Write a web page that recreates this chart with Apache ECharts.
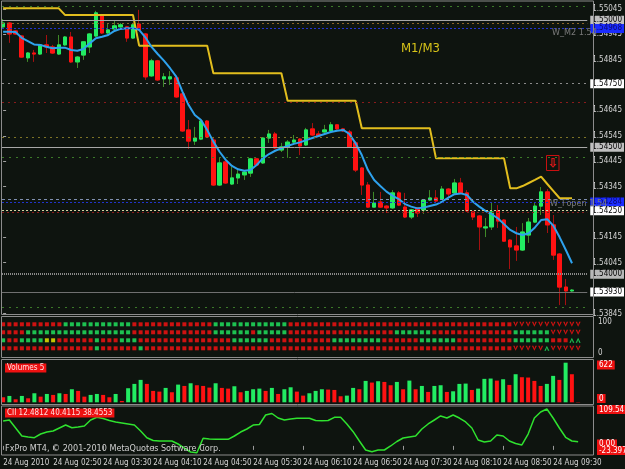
<!DOCTYPE html>
<html>
<head>
<meta charset="utf-8">
<script src="https://cdn.jsdelivr.net/npm/echarts@6/dist/echarts.min.js"></script>
<style>
  html, body { margin: 0; padding: 0; background: #0e140f; }
  #chart { width: 625px; height: 469px; }
</style>
</head>
<body>
<div id="chart"></div>
<script>
// GBPUSD-like M5 chart, 24 Aug 2010 (MT4 screenshot)
const NARROW = "'Liberation Sans Narrow','DejaVu Sans Condensed','Liberation Sans',sans-serif"
const BG = '#0e140f'

// [open, close, low, high] per bar
const candles = [
  [1.54974, 1.54989, 1.54970, 1.55005], [1.54989, 1.54946, 1.54911, 1.54993], [1.54958, 1.54946, 1.54942, 1.54962],
  [1.54938, 1.54855, 1.54852, 1.54942], [1.54852, 1.54871, 1.54836, 1.54875], [1.54871, 1.54867, 1.54836, 1.54883],
  [1.54867, 1.54903, 1.54863, 1.54907], [1.54903, 1.54895, 1.54871, 1.54942], [1.54895, 1.54871, 1.54867, 1.54903],
  [1.54867, 1.54903, 1.54863, 1.54942], [1.54903, 1.54934, 1.54899, 1.54938], [1.54934, 1.54836, 1.54832, 1.54954],
  [1.54836, 1.54855, 1.54812, 1.54859], [1.54863, 1.54915, 1.54844, 1.54918], [1.54895, 1.54946, 1.54871, 1.54950],
  [1.54938, 1.55029, 1.54934, 1.55037], [1.55021, 1.54950, 1.54946, 1.55025], [1.54950, 1.54962, 1.54946, 1.54985],
  [1.54966, 1.54978, 1.54958, 1.54997], [1.54974, 1.54982, 1.54970, 1.54989], [1.54974, 1.54930, 1.54915, 1.54978],
  [1.54930, 1.54982, 1.54926, 1.54985], [1.54985, 1.54962, 1.54958, 1.55041], [1.54946, 1.54777, 1.54765, 1.54950],
  [1.54781, 1.54840, 1.54777, 1.54848], [1.54840, 1.54765, 1.54761, 1.54844], [1.54769, 1.54777, 1.54737, 1.54792],
  [1.54769, 1.54777, 1.54745, 1.54800], [1.54773, 1.54698, 1.54694, 1.54777], [1.54710, 1.54564, 1.54560, 1.54714],
  [1.54568, 1.54524, 1.54493, 1.54607], [1.54524, 1.54536, 1.54509, 1.54580], [1.54532, 1.54603, 1.54528, 1.54607],
  [1.54603, 1.54540, 1.54536, 1.54607], [1.54528, 1.54351, 1.54347, 1.54536], [1.54351, 1.54438, 1.54347, 1.54458],
  [1.54442, 1.54359, 1.54355, 1.54450], [1.54355, 1.54379, 1.54351, 1.54422], [1.54379, 1.54394, 1.54355, 1.54410],
  [1.54391, 1.54402, 1.54371, 1.54410], [1.54398, 1.54454, 1.54383, 1.54458], [1.54454, 1.54430, 1.54426, 1.54458],
  [1.54438, 1.54536, 1.54434, 1.54540], [1.54536, 1.54552, 1.54517, 1.54568], [1.54552, 1.54497, 1.54493, 1.54560],
  [1.54489, 1.54501, 1.54481, 1.54517], [1.54501, 1.54520, 1.54458, 1.54528], [1.54520, 1.54528, 1.54509, 1.54548],
  [1.54532, 1.54505, 1.54469, 1.54536], [1.54509, 1.54568, 1.54505, 1.54576], [1.54572, 1.54548, 1.54544, 1.54595],
  [1.54552, 1.54544, 1.54540, 1.54564], [1.54560, 1.54568, 1.54556, 1.54588], [1.54564, 1.54588, 1.54560, 1.54599],
  [1.54588, 1.54572, 1.54568, 1.54591], [1.54572, 1.54564, 1.54560, 1.54576], [1.54560, 1.54501, 1.54497, 1.54568],
  [1.54517, 1.54410, 1.54402, 1.54524], [1.54418, 1.54351, 1.54312, 1.54422], [1.54351, 1.54264, 1.54261, 1.54363],
  [1.54264, 1.54280, 1.54264, 1.54324], [1.54284, 1.54264, 1.54261, 1.54324], [1.54268, 1.54261, 1.54241, 1.54272],
  [1.54261, 1.54320, 1.54257, 1.54331], [1.54320, 1.54272, 1.54268, 1.54327], [1.54264, 1.54225, 1.54221, 1.54320],
  [1.54225, 1.54253, 1.54217, 1.54257], [1.54261, 1.54241, 1.54225, 1.54264], [1.54253, 1.54292, 1.54237, 1.54296],
  [1.54292, 1.54300, 1.54288, 1.54331], [1.54300, 1.54288, 1.54284, 1.54331], [1.54296, 1.54335, 1.54292, 1.54347],
  [1.54335, 1.54316, 1.54300, 1.54339], [1.54320, 1.54359, 1.54316, 1.54375], [1.54359, 1.54320, 1.54316, 1.54379],
  [1.54320, 1.54249, 1.54245, 1.54331], [1.54245, 1.54225, 1.54213, 1.54249], [1.54229, 1.54186, 1.54095, 1.54233],
  [1.54182, 1.54186, 1.54146, 1.54221], [1.54186, 1.54245, 1.54174, 1.54284], [1.54249, 1.54209, 1.54182, 1.54272],
  [1.54213, 1.54130, 1.54127, 1.54217], [1.54134, 1.54107, 1.54020, 1.54138], [1.54111, 1.54095, 1.54052, 1.54186],
  [1.54095, 1.54166, 1.54091, 1.54201], [1.54154, 1.54205, 1.54123, 1.54221], [1.54205, 1.54268, 1.54201, 1.54280],
  [1.54268, 1.54324, 1.54233, 1.54343], [1.54324, 1.54194, 1.54162, 1.54335], [1.54194, 1.54075, 1.54056, 1.54233],
  [1.54079, 1.53949, 1.53878, 1.54083], [1.53949, 1.53934, 1.53878, 1.53981], [1.53934, 1.53937, 1.53930, 1.53941],
]

// blue moving average
const emaLine = [
  1.54955, 1.54955, 1.54954, 1.54931, 1.54918, 1.54905, 1.54903, 1.54896, 1.54890, 1.54892,
  1.54892, 1.54883, 1.54880, 1.54887, 1.54909, 1.54929, 1.54935, 1.54942, 1.54958, 1.54966,
  1.54969, 1.54969, 1.54962, 1.54933, 1.54895, 1.54867, 1.54841, 1.54811, 1.54778, 1.54719,
  1.54666, 1.54627, 1.54607, 1.54568, 1.54522, 1.54482, 1.54450, 1.54426, 1.54413, 1.54407,
  1.54410, 1.54430, 1.54456, 1.54473, 1.54486, 1.54496, 1.54505, 1.54513, 1.54519, 1.54528,
  1.54536, 1.54544, 1.54552, 1.54560, 1.54565, 1.54568, 1.54552, 1.54515, 1.54469, 1.54410,
  1.54371, 1.54347, 1.54325, 1.54308, 1.54295, 1.54276, 1.54266, 1.54259, 1.54262, 1.54268,
  1.54274, 1.54286, 1.54301, 1.54315, 1.54318, 1.54312, 1.54285, 1.54266, 1.54249, 1.54236,
  1.54220, 1.54197, 1.54174, 1.54161, 1.54154, 1.54161, 1.54184, 1.54213, 1.54216, 1.54190,
  1.54145, 1.54095, 1.54043,
]

// yellow higher-timeframe step line
const stepLine = [
  1.55047, 1.55047, 1.55047, 1.55047, 1.55047, 1.55047, 1.55047, 1.55047, 1.55047, 1.55047,
  1.55021, 1.55021, 1.55021, 1.55021, 1.55021, 1.55021, 1.55021, 1.55021, 1.55021, 1.55021,
  1.55021, 1.55021, 1.54900, 1.54900, 1.54900, 1.54900, 1.54900, 1.54900, 1.54900, 1.54900,
  1.54900, 1.54900, 1.54900, 1.54900, 1.54791, 1.54791, 1.54791, 1.54791, 1.54791, 1.54791,
  1.54791, 1.54791, 1.54791, 1.54791, 1.54791, 1.54791, 1.54683, 1.54683, 1.54683, 1.54683,
  1.54683, 1.54683, 1.54683, 1.54683, 1.54683, 1.54683, 1.54683, 1.54683, 1.54575, 1.54575,
  1.54575, 1.54575, 1.54575, 1.54575, 1.54575, 1.54575, 1.54575, 1.54575, 1.54575, 1.54575,
  1.54456, 1.54456, 1.54456, 1.54456, 1.54456, 1.54456, 1.54456, 1.54456, 1.54456, 1.54456,
  1.54456, 1.54456, 1.54338, 1.54338, 1.54347, 1.54359, 1.54371, 1.54384, 1.54355, 1.54327,
  1.54299, 1.54299, 1.54299,
]

const volumes = [
  79, 100, 47, 100, 63, 142, 89, 131, 116, 142,
  131, 205, 179, 89, 116, 131, 116, 79, 131, 21,
  221, 289, 352, 289, 179, 168, 226, 158, 278, 257,
  299, 268, 257, 231, 299, 226, 215, 252, 158, 179,
  205, 215, 179, 226, 131, 205, 236, 168, 105, 142,
  179, 205, 200, 194, 95, 105, 226, 205, 336, 310,
  331, 320, 268, 320, 205, 341, 205, 257, 163, 257,
  268, 163, 173, 289, 294, 194, 215, 368, 373, 341,
  362, 273, 441, 394, 389, 336, 257, 289, 415, 352,
  622, 441, 5,
]

const ciiLine = [
  67.5, 70.2, 48.5, 26.8, 24.1, 22.2, 32.2, 37.6, 40.4, 48.5,
  56.6, 49.3, 51.2, 53.9, 70.2, 77.5, 74.3, 68.8, 64.8, 62.1,
  59.4, 56.6, 40.4, 22.2, 14.6, 13.2, 13.2, 13.2, 5.1, -5.8,
  -16.6, -18.5, 20.6, 18.7, 17.8, 17.8, 17.8, 26.8, 37.6, 45.8,
  56.6, 58.0, 83.8, 87.8, 75.6, 70.2, 72.9, 74.8, 74.8, 74.8,
  68.8, 68.3, 68.8, 77.5, 77.5, 59.4, 38.5, 13.2, -11.2, -15.8,
  -11.2, -11.2, -0.3, 11.9, 21.4, 24.1, 26.8, 45.8, 59.4, 70.2,
  81.1, 75.6, 83.8, 75.6, 64.8, 48.5, 15.9, 10.5, 13.2, 29.5,
  26.8, 13.2, 6.4, 2.4, 32.2, 75.6, 91.9, 100.0, 75.6, 48.5,
  23.3, 13.2, 11.3,
]

// signal grid, run-length per row: r red, g green, y yellow, v red down arrow, a green up arrow
const signalRuns = [
  [['r', 10], ['g', 11], ['r', 13], ['g', 12], ['r', 36], ['v', 11]],
  [['r', 4], ['g', 17], ['r', 13], ['g', 6], ['r', 1], ['g', 5], ['r', 17], ['g', 6], ['r', 13], ['g', 6], ['v', 5]],
  [['g', 1], ['r', 2], ['g', 4], ['y', 2], ['r', 6], ['g', 1], ['r', 3], ['g', 3], ['r', 15], ['g', 6], ['r', 10],
   ['g', 8], ['r', 6], ['g', 6], ['r', 9], ['g', 6], ['r', 3], ['a', 2]],
  [['r', 15], ['g', 1], ['r', 6], ['g', 1], ['r', 59], ['v', 5], ['a', 1], ['v', 5]],
]

const timeTicks = [0, 8, 16, 24, 32, 40, 48, 56, 64, 72, 80, 88]
const timeLabels = ['24 Aug 2010', '24 Aug 02:50', '24 Aug 03:30', '24 Aug 04:10', '24 Aug 04:50', '24 Aug 05:30',
  '24 Aug 06:10', '24 Aug 06:50', '24 Aug 07:30', '24 Aug 08:10', '24 Aug 08:50', '24 Aug 09:30']
const priceTicks = [1.55045, 1.54945, 1.54845, 1.54645, 1.54545, 1.54445, 1.54345, 1.54145, 1.54045, 1.53845]

// horizontal objects on the price chart
const levelPrices = [1.55056, 1.55000, 1.54990, 1.54968, 1.54750, 1.54678, 1.54540, 1.54500,
  1.54461, 1.54296, 1.54284, 1.54250, 1.54243, 1.54000, 1.53930, 1.53870]

// ---- styling ----
const levelStyles = [
  {color: '#3b7a28', type: [2, 5]},
  {color: '#a8a8a8', type: 'solid', tag: ['#c0c0c0', '#000']},
  {color: '#8c6428', type: [2, 3]},
  {color: '#2233cc', type: [2, 2], tag: ['#1a2cff', '#0a0a70']},
  {color: '#8a8a8a', type: [2, 4], tag: ['#ffffff', '#000']},
  {color: '#8a1b1b', type: [2, 4]},
  {color: '#7e7426', type: [2, 4]},
  {color: '#a8a8a8', type: 'solid', tag: ['#c0c0c0', '#000']},
  {color: '#3b7a28', type: [2, 5]},
  {color: '#8090b0', type: [3, 3]},
  {color: '#2233cc', type: [2, 2], tag: ['#1a2cff', '#0a0a70']},
  {color: '#d0d0a0', type: [2, 2], tag: ['#ffffff', '#000']},
  {color: '#8a1b1b', type: [2, 3]},
  {color: '#8a8a8a', type: [1, 1], width: 2, tag: ['#b8b8b8', '#000']},
  {color: '#707070', type: 'solid', tag: ['#ffffff', '#000']},
  {color: '#3b7a28', type: [2, 5]},
]

const GREEN = '#22ec62'
const RED = '#ff1212'
const AXIS_TXT = '#d4d4d4'
const X_MIN = -0.18
const X_MAX = 94.46
const RIGHT = 31.5

const markData = levelPrices.map((p, i) => {
  const s = levelStyles[i]
  return {
    yAxis: p,
    lineStyle: {color: s.color, type: s.type, width: s.width || 1},
    label: s.tag ? {
      show: true, position: 'end', distance: 3, formatter: p.toFixed(5),
      backgroundColor: s.tag[0], color: s.tag[1], padding: [1, 2, 0, 2],
      fontSize: 8, fontFamily: NARROW,
    } : {show: false},
  }
})

const cellKinds = {
  r: {symbol: 'rect', color: RED, size: [4, 4]},
  g: {symbol: 'rect', color: GREEN, size: [4, 4]},
  y: {symbol: 'rect', color: '#f2f000', size: [4, 4]},
  v: {symbol: 'path://M0,0L3,0L5,6L7,0L10,0L5,10Z', color: RED, size: [5, 5]},
  a: {symbol: 'path://M0,10L3,10L5,4L7,10L10,10L5,0Z', color: GREEN, size: [5, 5]},
}
const cellData = {r: [], g: [], y: [], v: [], a: []}
signalRuns.forEach((runs, row) => {
  let i = 0
  runs.forEach(([k, n]) => {
    for (let j = 0; j < n; j++) { cellData[k].push([i, 4 - row]); i++ }
  })
})

const hiddenX = gi => ({type: 'value', gridIndex: gi, min: X_MIN, max: X_MAX, show: false})
const hiddenY = (gi, min, max) => ({type: 'value', gridIndex: gi, min, max, show: false})

const txt = (x, y, text, fill, size, extra) => ({
  type: 'text', x, y, silent: true, z: 100,
  style: Object.assign({text, fill, font: `${size}px ${NARROW}`, verticalAlign: 'middle', align: 'left'}, extra || {}),
})
const tag = (x, y, text, bg, fill) => txt(x, y, text, fill || '#ffffff', 8, {backgroundColor: bg, padding: [1, 2, 0, 2]})

const frames = [[1, 314.5], [316.5, 357.5], [359.5, 404.5], [406, 455]]

const myChart = echarts.init(document.getElementById('chart'), null, {renderer: 'canvas'})
myChart.setOption({
  backgroundColor: BG,
  animation: false,
  grid: [
    {left: 2, right: RIGHT, top: 3, height: 312},
    {left: 2, right: RIGHT, top: 318, height: 39},
    {left: 2, right: RIGHT, top: 362.7, height: 39.6},
    {left: 2, right: RIGHT, top: 405.5, height: 49},
  ],
  xAxis: [
    hiddenX(0), hiddenX(1), hiddenX(2),
    {
      type: 'value', gridIndex: 3, min: X_MIN, max: X_MAX,
      axisLine: {show: false}, splitLine: {show: false},
      axisTick: {show: true, customValues: timeTicks, length: 4, lineStyle: {color: '#9a9a9a'}},
      axisLabel: {
        customValues: timeTicks, formatter: v => timeLabels[timeTicks.indexOf(Math.round(v))] || '',
        showMinLabel: true, showMaxLabel: true, hideOverlap: false,
        align: 'left', color: AXIS_TXT, fontSize: 8, fontFamily: NARROW, margin: 4,
      },
    },
  ],
  yAxis: [
    {
      type: 'value', gridIndex: 0, min: 1.53839, max: 1.55068, position: 'right',
      splitLine: {show: false}, axisLine: {show: false},
      axisTick: {show: true, customValues: priceTicks, length: 3, lineStyle: {color: '#a0a0a0'}},
      axisLabel: {
        customValues: priceTicks, formatter: v => v.toFixed(5), showMinLabel: true, showMaxLabel: true,
        color: AXIS_TXT, fontSize: 8, fontFamily: NARROW, margin: 5,
      },
    },
    hiddenY(1, -0.0875, 4.7875),
    hiddenY(2, 0, 622),
    hiddenY(3, -23.3972, 109.5414),
  ],
  series: [
    {
      type: 'line', xAxisIndex: 0, yAxisIndex: 0, data: [], silent: true,
      markLine: {symbol: 'none', silent: true, animation: false, precision: 5, data: markData},
    },
    {
      // wicks
      type: 'candlestick', xAxisIndex: 0, yAxisIndex: 0, barWidth: 4, silent: true,
      data: candles.map((c, i) => [i, c[0], c[1], c[2], c[3]]),
      itemStyle: {color: '#3f8a28', color0: '#a51010', borderColor: '#3f8a28', borderColor0: '#a51010', borderWidth: 1},
    },
    {
      // bodies
      type: 'candlestick', xAxisIndex: 0, yAxisIndex: 0, barWidth: 4, silent: true,
      data: candles.map((c, i) => [i, c[0], c[1], Math.min(c[0], c[1]), Math.max(c[0], c[1])]),
      itemStyle: {color: GREEN, color0: RED, borderColor: GREEN, borderColor0: RED, borderWidth: 1},
    },
    {
      type: 'line', xAxisIndex: 0, yAxisIndex: 0, showSymbol: false, silent: true,
      data: stepLine.map((v, i) => [i, v]),
      lineStyle: {color: '#e2be1e', width: 2},
    },
    {
      type: 'line', xAxisIndex: 0, yAxisIndex: 0, showSymbol: false, silent: true,
      data: emaLine.map((v, i) => [i, v]),
      lineStyle: {color: '#2ea2ee', width: 2},
    },
    ...Object.keys(cellKinds).map(k => ({
      type: 'scatter', xAxisIndex: 1, yAxisIndex: 1, silent: true,
      symbol: cellKinds[k].symbol, symbolSize: cellKinds[k].size,
      itemStyle: {color: cellKinds[k].color},
      data: cellData[k],
    })),
    {
      type: 'bar', xAxisIndex: 2, yAxisIndex: 2, barWidth: 4, silent: true,
      data: volumes.map((v, i) => ({
        value: [i, v],
        itemStyle: {color: i > 0 && v > volumes[i - 1] ? GREEN : RED},
      })),
    },
    {
      type: 'line', xAxisIndex: 3, yAxisIndex: 3, showSymbol: false, silent: true,
      data: ciiLine.map((v, i) => [i, v]),
      lineStyle: {color: '#2fe22f', width: 1.5},
    },
  ],
  graphic: [
    ...frames.map(([t, b]) => ({
      type: 'rect', silent: true, z: 90,
      shape: {x: 1.5, y: t, width: 592, height: b - t},
      style: {fill: 'none', stroke: '#8c8c8c', lineWidth: 1},
    })),
    txt(401, 49, 'M1/M3', '#d8c419', 13),
    txt(552, 33, 'W_M2 1.54', '#7a7a7a', 9),
    txt(550, 204, 'W_Fopen 1.54', '#7a7a7a', 9),
    {
      type: 'rect', silent: true, z: 100,
      shape: {x: 546.5, y: 155.5, width: 12.5, height: 15},
      style: {fill: 'none', stroke: '#c81010', lineWidth: 1},
    },
    txt(548, 163.5, '⇩', '#d81818', 12, {fontWeight: 'bold'}),
    txt(598, 322, '100', AXIS_TXT, 8),
    txt(598, 353, '0', AXIS_TXT, 8),
    tag(597, 365, '622', '#ee1111'),
    tag(597, 398.5, '0', '#ee1111'),
    tag(597, 409.5, '109.5414', '#ee1111'),
    tag(597, 444, '0.00', '#ee1111'),
    tag(597, 450.5, '-23.3972', '#ee1111'),
    tag(5, 368, 'Volumes 5', '#ee1111', '#ffe2e2'),
    tag(5, 413, 'CII 12.4812 40.4115 38.4553', '#ee1111', '#ffe2e2'),
    txt(5, 449, 'FxPro MT4, © 2001-2010 MetaQuotes Software Corp.', '#d0d0d0', 9),
  ],
})
</script>
</body>
</html>
